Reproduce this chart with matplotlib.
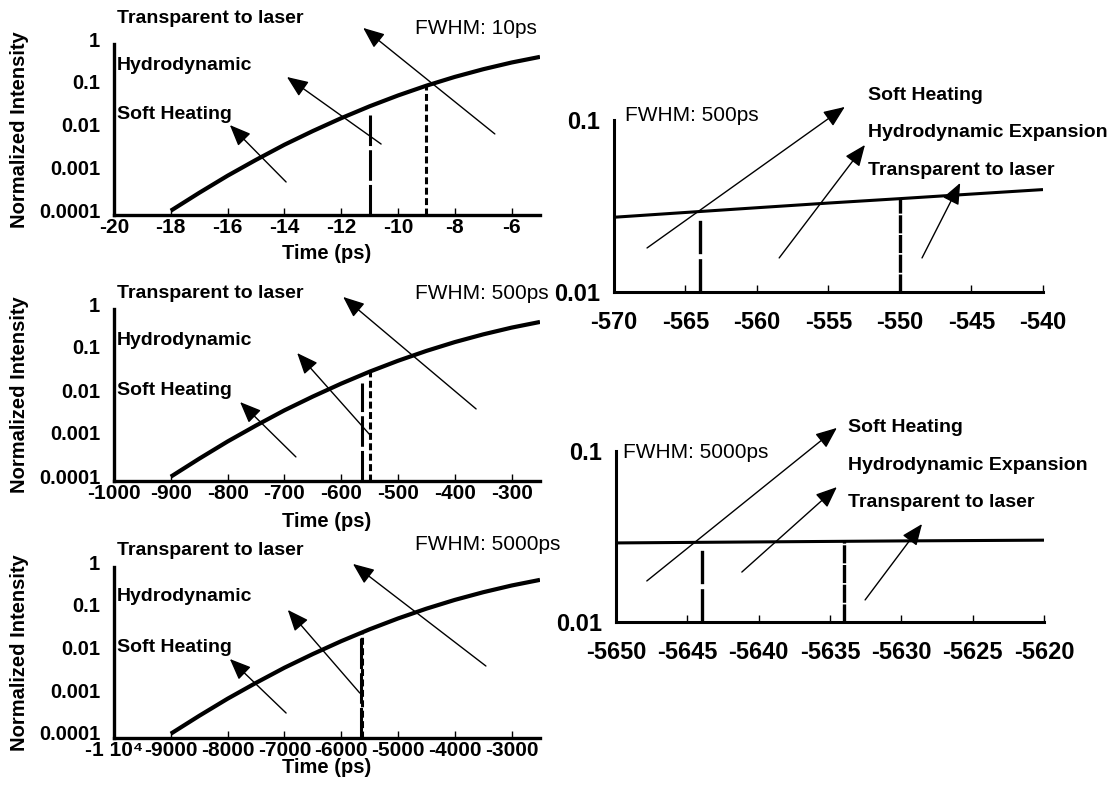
import matplotlib.pyplot as plt
from matplotlib.ticker import NullLocator
from matplotlib.transforms import ScaledTranslation

plt.rcParams['font.family'] = ['Liberation Sans', 'DejaVu Sans']
plt.rcParams['lines.scale_dashes'] = False

W, H = 1115, 789

# rising edge of the laser pulse, normalized intensity vs time
t_10ps = [-18, -17, -16, -15, -14, -13, -12, -11, -10, -9, -8, -7, -6, -5]
t_500ps = [-900, -850, -800, -750, -700, -650, -600, -550, -500, -450, -400, -350, -300, -250]
t_5000ps = [-9000, -8500, -8000, -7500, -7000, -6500, -6000, -5500, -5000, -4500, -4000, -3500, -3000, -2500]
i_rise = [1.26e-4, 3.3e-4, 8.3e-4, 1.95e-3, 4.4e-3, 9.2e-3, 0.0184, 0.0349, 0.0625,
          0.106, 0.170, 0.257, 0.369, 0.50]

# close-up of the edge around the thresholds
t_zoom_500 = [-570, -565, -560, -555, -550, -545, -540]
i_zoom_500 = [0.0272, 0.0290, 0.0309, 0.0329, 0.0349, 0.0371, 0.0394]
t_zoom_5000 = [-5650, -5640, -5630, -5620]
i_zoom_5000 = [0.0290, 0.0294, 0.0298, 0.0301]

# threshold markers (time, top of the vertical line)
left_long_t = [-11, -564, -5644]
left_long_top = [0.022, 0.019, 0.026]
left_short_t = [-9, -550, -5634]
left_short_top = [0.106, 0.0349, 0.0297]
zoom_long_t = [-564, -5644]
zoom_long_top = [0.0266, 0.0264]
zoom_short_t = [-550, -5634]
zoom_short_top = [0.0349, 0.0297]

fwhm_labels = ["FWHM: 10ps", "FWHM: 500ps", "FWHM: 5000ps"]
left_stages = ["Transparent to laser", "Hydrodynamic", "Soft Heating"]
right_stages = ["Soft Heating", "Hydrodynamic Expansion", "Transparent to laser"]

left_xlims = [(-20, -5), (-1000, -250), (-10000, -2500)]
left_xticks = [list(range(-20, -5, 2)), list(range(-1000, -299, 100)), list(range(-10000, -2999, 1000))]
left_xticklabels = [[str(v) for v in left_xticks[0]],
                    [str(v) for v in left_xticks[1]],
                    ["-1 10\u2074"] + [str(v) for v in left_xticks[2][1:]]]
y_ticks = [1e-4, 1e-3, 1e-2, 1e-1, 1]
y_ticklabels = ["0.0001", "0.001", "0.01", "0.1", "1"]

fig = plt.figure(figsize=(W / 100, H / 100), dpi=100)
# y tick labels sit a little above their tick positions
lift = ScaledTranslation(0, 5 / 100, fig.dpi_scale_trans)


def add_axes_px(left, top, right, bottom):
    return fig.add_axes([left / W, 1 - bottom / H, (right - left) / W, (bottom - top) / H])


def arrow(ax, tail, head):
    ax.annotate('', xy=head, xytext=tail, xycoords='axes fraction', textcoords='axes fraction',
                annotation_clip=False,
                arrowprops=dict(arrowstyle='-|>,head_length=0.65,head_width=0.27', color='black',
                                lw=1.0, shrinkA=0, shrinkB=0, mutation_scale=20))


def style_axes(ax, spine_w):
    for side in ('top', 'right'):
        ax.spines[side].set_visible(False)
    for side in ('left', 'bottom'):
        ax.spines[side].set_linewidth(spine_w)
    ax.yaxis.set_minor_locator(NullLocator())
    ax.xaxis.set_minor_locator(NullLocator())


# left column: full rising edge for each pulse length
left_boxes = [(114, 44, 540, 215), (114, 309, 540, 481), (114, 567, 540, 738)]
left_times = [t_10ps, t_500ps, t_5000ps]
xlabel_y = [-0.228, -0.238, -0.17]
stage_y = [(1.152, 0.877, 0.585), (1.093, 0.814, 0.529), (1.094, 0.825, 0.532)]
fwhm_y = [1.088, 1.093, 1.13]
left_arrows = [
    [((0.404, 0.193), (0.272, 0.526)), ((0.627, 0.415), (0.406, 0.807)), ((0.894, 0.474), (0.585, 1.094))],
    [((0.427, 0.140), (0.296, 0.459)), ((0.603, 0.262), (0.430, 0.744)), ((0.850, 0.419), (0.538, 1.070))],
    [((0.404, 0.146), (0.272, 0.462)), ((0.577, 0.263), (0.408, 0.749)), ((0.873, 0.421), (0.561, 1.018))],
]

for k in range(3):
    ax = add_axes_px(*left_boxes[k])
    ax.plot(left_times[k], i_rise, color='black', lw=3, solid_capstyle='butt')
    ax.plot([left_long_t[k]] * 2, [1e-4, left_long_top[k]], color='black', lw=2.2, dashes=(22, 3))
    ax.plot([left_short_t[k]] * 2, [1e-4, left_short_top[k]], color='black', lw=2.2, dashes=(5, 2.5))
    ax.set_yscale('log')
    ax.set_ylim(1e-4, 1)
    ax.set_xlim(*left_xlims[k])
    style_axes(ax, 2.4)
    ax.set_yticks(y_ticks)
    ax.set_yticklabels(y_ticklabels, fontweight='bold')
    ax.set_xticks(left_xticks[k])
    ax.set_xticklabels(left_xticklabels[k], fontweight='bold')
    ax.yaxis.set_minor_locator(NullLocator())
    ax.tick_params(axis='y', length=0, pad=10, labelsize=14.5)
    ax.tick_params(axis='x', direction='in', length=5, width=1, pad=2, labelsize=15)
    for lbl in ax.get_yticklabels():
        lbl.set_transform(lbl.get_transform() + lift)
    ax.set_xlabel("Time (ps)", fontsize=14.5, fontweight='bold', va='center')
    ax.xaxis.set_label_coords(0.5, xlabel_y[k])
    ax.set_ylabel("Normalized Intensity", fontsize=14.5, fontweight='bold', va='center')
    ax.yaxis.set_label_coords(-0.221, 0.5)
    for s, y in zip(left_stages, stage_y[k]):
        ax.text(0.007, y, s, transform=ax.transAxes, fontsize=14, fontweight='bold', va='center')
    ax.text(0.707, fwhm_y[k], fwhm_labels[k], transform=ax.transAxes, fontsize=15, va='center')
    for tail, head in left_arrows[k]:
        arrow(ax, tail, head)

# right column: close-up around the thresholds
right_boxes = [(614, 120, 1043, 292), (616, 451, 1044, 622)]
right_data = [(t_zoom_500, i_zoom_500), (t_zoom_5000, i_zoom_5000)]
right_xlims = [(-570, -540), (-5650, -5620)]
right_fwhm = [fwhm_labels[1], fwhm_labels[2]]
right_fwhm_pos = [(0.026, 1.029), (0.016, 0.994)]
right_stage_x = [0.592, 0.542]
right_stage_y = [(1.145, 0.930, 0.709), (1.140, 0.918, 0.696)]
right_arrows = [
    [((0.077, 0.256), (0.538, 1.076)), ((0.385, 0.198), (0.585, 0.855)), ((0.718, 0.198), (0.807, 0.634))],
    [((0.072, 0.240), (0.516, 1.135)), ((0.294, 0.292), (0.516, 0.789)), ((0.582, 0.129), (0.715, 0.573))],
]

for k in range(2):
    ax = add_axes_px(*right_boxes[k])
    t, i = right_data[k]
    ax.plot(t, i, color='black', lw=2.2, solid_capstyle='butt')
    ax.plot([zoom_long_t[k]] * 2, [0.01, zoom_long_top[k]], color='black', lw=2.4, dashes=(24, 3.6))
    ax.plot([zoom_short_t[k]] * 2, [0.01, zoom_short_top[k]], color='black', lw=2.4, dashes=(13, 1.2))
    ax.set_yscale('log')
    ax.set_ylim(0.01, 0.1)
    ax.set_xlim(*right_xlims[k])
    style_axes(ax, 2.2)
    ax.set_yticks([0.01, 0.1])
    ax.set_yticklabels(["0.01", "0.1"], fontweight='bold')
    xt = list(range(right_xlims[k][0], right_xlims[k][1] + 1, 5))
    ax.set_xticks(xt)
    ax.set_xticklabels([str(v) for v in xt], fontweight='bold')
    ax.yaxis.set_minor_locator(NullLocator())
    ax.tick_params(axis='y', length=0, pad=10, labelsize=17)
    ax.tick_params(axis='x', direction='in', length=5, width=1, pad=14, labelsize=17)
    fx, fy = right_fwhm_pos[k]
    ax.text(fx, fy, right_fwhm[k], transform=ax.transAxes, fontsize=15, va='center')
    for s, y in zip(right_stages, right_stage_y[k]):
        ax.text(right_stage_x[k], y, s, transform=ax.transAxes, fontsize=14, fontweight='bold', va='center')
    for tail, head in right_arrows[k]:
        arrow(ax, tail, head)

fig.savefig("out.png", dpi=100)
